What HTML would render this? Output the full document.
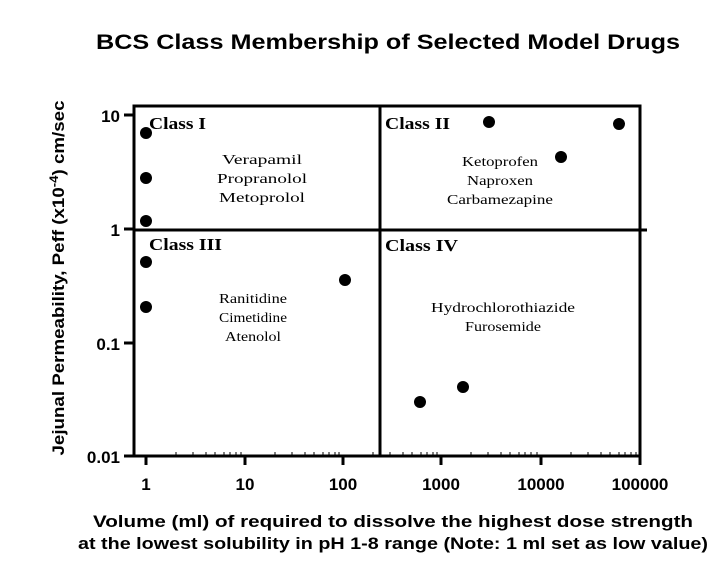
<!DOCTYPE html>
<html><head><style>body{margin:0;background:#fff}svg{display:block}</style></head><body>
<svg width="724" height="584" xmlns="http://www.w3.org/2000/svg">
<text x="388" y="49" text-anchor="middle" font-family="Liberation Sans, sans-serif" font-weight="bold" font-size="21" textLength="584" lengthAdjust="spacingAndGlyphs">BCS Class Membership of Selected Model Drugs</text>
<g stroke="#000" stroke-width="3" fill="none">
<rect x="134" y="106" width="506" height="350"/>
<line x1="380" y1="106" x2="380" y2="456"/>
<line x1="134" y1="230" x2="647" y2="230"/>
<line x1="124" y1="115" x2="134" y2="115"/>
<line x1="124" y1="229" x2="134" y2="229"/>
<line x1="124" y1="343" x2="134" y2="343"/>
<line x1="124" y1="456" x2="134" y2="456"/>
<line x1="146" y1="456" x2="146" y2="465"/>
<line x1="245" y1="456" x2="245" y2="465"/>
<line x1="343" y1="456" x2="343" y2="465"/>
<line x1="441" y1="456" x2="441" y2="465"/>
<line x1="541" y1="456" x2="541" y2="465"/>
<line x1="640" y1="456" x2="640" y2="465"/>
</g>
<g stroke="#000" stroke-width="1">
<path d="M176 456v-4M193 456v-4M206 456v-4M215 456v-4M224 456v-4M230 456v-4M236 456v-4M241 456v-4
M275 456v-4M292 456v-4M305 456v-4M314 456v-4M323 456v-4M329 456v-4M335 456v-4M339 456v-4
M373 456v-4M390 456v-4M403 456v-4M412 456v-4M421 456v-4M427 456v-4M433 456v-4M437 456v-4
M471 456v-4M488 456v-4M501 456v-4M510 456v-4M519 456v-4M525 456v-4M531 456v-4M537 456v-4
M571 456v-4M588 456v-4M601 456v-4M610 456v-4M619 456v-4M625 456v-4M631 456v-4M636 456v-4"/>
</g>
<g font-family="Liberation Sans, sans-serif" font-weight="bold" font-size="17" text-anchor="end">
<text x="120" y="122">10</text><text x="120" y="236">1</text><text x="120" y="350">0.1</text><text x="120" y="463">0.01</text>
</g>
<g font-family="Liberation Sans, sans-serif" font-weight="bold" font-size="17" text-anchor="middle">
<text x="146" y="490">1</text><text x="245" y="490">10</text><text x="343" y="490">100</text><text x="441" y="490">1000</text><text x="541" y="490">10000</text><text x="640" y="490">100000</text>
<text x="393" y="527" textLength="600" lengthAdjust="spacingAndGlyphs">Volume (ml) of required to dissolve the highest dose strength</text>
<text x="393" y="549" textLength="630" lengthAdjust="spacingAndGlyphs">at the lowest solubility in pH 1-8 range (Note: 1 ml set as low value)</text>
<text transform="translate(64,278) rotate(-90)" textLength="355" lengthAdjust="spacingAndGlyphs">Jejunal Permeability, Peff (x10<tspan dy="-6" font-size="12">-4</tspan><tspan dy="6">) cm/sec</tspan></text>
</g>
<g font-family="Liberation Serif, serif" font-weight="bold" font-size="17">
<text x="149" y="129" textLength="57" lengthAdjust="spacingAndGlyphs">Class I</text><text x="385" y="129" textLength="65" lengthAdjust="spacingAndGlyphs">Class II</text>
<text x="149" y="250" textLength="73" lengthAdjust="spacingAndGlyphs">Class III</text><text x="385" y="251" textLength="73" lengthAdjust="spacingAndGlyphs">Class IV</text>
</g>
<g font-family="Liberation Serif, serif" font-size="14" text-anchor="middle">
<text x="262" y="164" textLength="80" lengthAdjust="spacingAndGlyphs">Verapamil</text><text x="262" y="183" textLength="90" lengthAdjust="spacingAndGlyphs">Propranolol</text><text x="262" y="202" textLength="86" lengthAdjust="spacingAndGlyphs">Metoprolol</text>
<text x="500" y="166" textLength="76" lengthAdjust="spacingAndGlyphs">Ketoprofen</text><text x="500" y="185" textLength="66" lengthAdjust="spacingAndGlyphs">Naproxen</text><text x="500" y="204" textLength="106" lengthAdjust="spacingAndGlyphs">Carbamezapine</text>
<text x="253" y="303" textLength="68" lengthAdjust="spacingAndGlyphs">Ranitidine</text><text x="253" y="322" textLength="68" lengthAdjust="spacingAndGlyphs">Cimetidine</text><text x="253" y="341" textLength="56" lengthAdjust="spacingAndGlyphs">Atenolol</text>
<text x="503" y="312" textLength="144" lengthAdjust="spacingAndGlyphs">Hydrochlorothiazide</text><text x="503" y="331" textLength="76" lengthAdjust="spacingAndGlyphs">Furosemide</text>
</g>
<g fill="#000">
<circle cx="146" cy="133" r="6"/><circle cx="146" cy="178" r="6"/><circle cx="146" cy="221" r="6"/>
<circle cx="146" cy="262" r="6"/><circle cx="146" cy="307" r="6"/><circle cx="345" cy="280" r="6"/>
<circle cx="489" cy="122" r="6"/><circle cx="619" cy="124" r="6"/><circle cx="561" cy="157" r="6"/>
<circle cx="420" cy="402" r="6"/><circle cx="463" cy="387" r="6"/>
</g>
</svg>
</body></html>
